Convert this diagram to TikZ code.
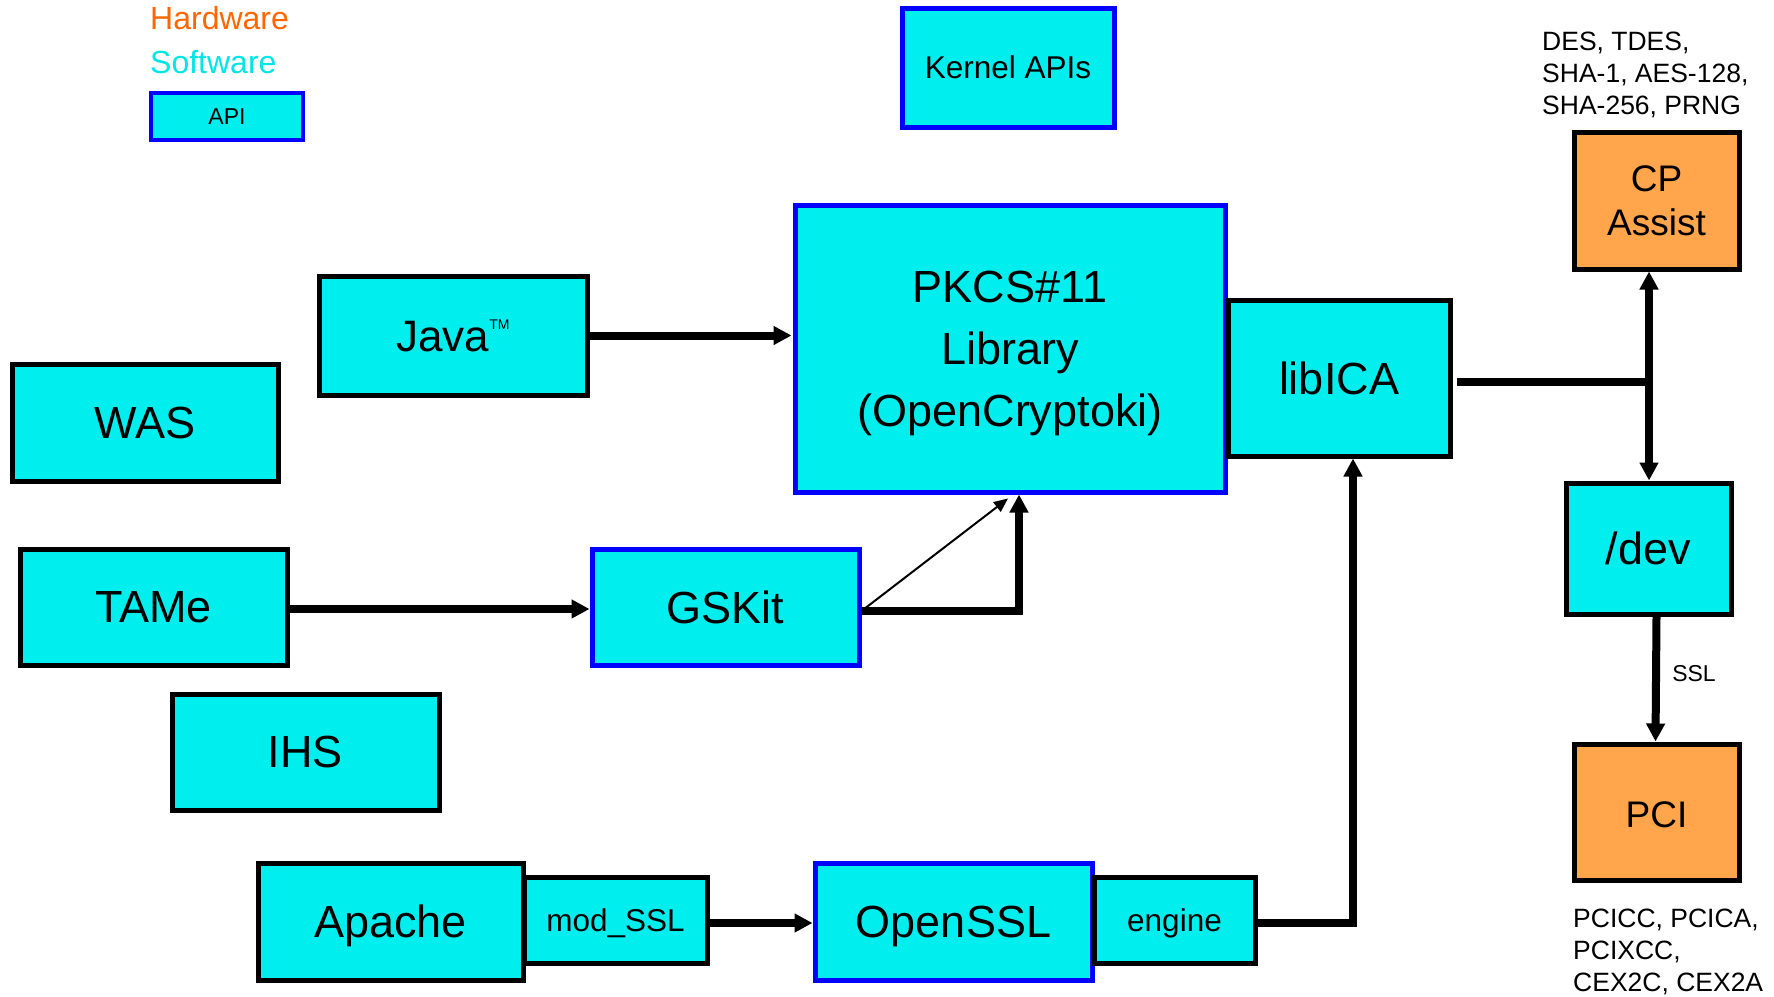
\documentclass[tikz,border=0pt]{standalone}
\usepackage{fontspec}
\setmainfont{Liberation Sans}
\usetikzlibrary{arrows.meta}
\definecolor{swcyan}{RGB}{0,238,238}
\definecolor{apiblue}{RGB}{0,0,255}
\definecolor{hworange}{RGB}{255,165,75}
\definecolor{hwtext}{RGB}{255,102,0}
\definecolor{swtext}{RGB}{0,229,229}
\newcommand{\fs}[2]{\fontsize{#1pt}{#2pt}\selectfont}
\tikzset{
  swbox/.style={draw=black, line width=5pt, fill=swcyan, inner sep=0pt, align=center, text depth=0pt},
  apibox/.style={swbox, draw=apiblue},
  hwbox/.style={draw=black, line width=5pt, fill=hworange, inner sep=0pt, align=center, text depth=0pt},
  conn/.style={line width=8pt, -{Triangle[length=18pt,width=18pt]}},
  plain/.style={line width=8pt},
  thinconn/.style={line width=2pt, -{Triangle[length=14pt,width=12pt]}},
  lbl/.style={inner sep=0pt, align=left},
}
\begin{document}
\begin{tikzpicture}[x=1pt,y=-1pt]
\useasboundingbox (0,0) rectangle (1774,996);
% legend
\node[lbl, anchor=west, text=hwtext, font=\fs{32}{36}] (hwleg) at (150,18) {Hardware};
\node[lbl, anchor=west, text=swtext, font=\fs{32}{36}] (swleg) at (150,62) {Software};
\node[apibox, line width=4pt, minimum width=152pt, minimum height=47pt, font=\fs{23}{28}] (api) at (227,116.5) {API};
% boxes
\node[apibox, minimum width=212pt, minimum height=119pt, font=\fs{31.5}{38}] (kernel) at (1008,67.5) {Kernel APIs};
\node[apibox, minimum width=430pt, minimum height=287pt, font=\fs{45}{62}] (pkcs) at (1010,348.5) {PKCS\#11\\Library\\(OpenCryptoki)};
\node[swbox, minimum width=222pt, minimum height=156pt, font=\fs{45}{54}] (libica) at (1339,378) {libICA};
\node[hwbox, minimum width=165pt, minimum height=137pt, font=\fs{37}{44}] (cp) at (1656.5,200.5) {CP\\Assist};
\node[hwbox, minimum width=165pt, minimum height=136pt, font=\fs{37}{44}, text height=30pt] (pci) at (1656.5,812) {PCI};
\node[swbox, minimum width=165pt, minimum height=131pt, font=\fs{45}{54}] (dev) at (1648.5,548.5) {/dev};
\node[swbox, minimum width=268pt, minimum height=119pt, font=\fs{44}{54}] (java) at (453,335.5) {Java\raisebox{22pt}{\fs{14}{14}TM}};
\node[swbox, minimum width=266pt, minimum height=117pt, font=\fs{45}{54}] (was) at (145,422.5) {WAS};
\node[swbox, minimum width=267pt, minimum height=116pt, font=\fs{45}{54}] (tame) at (153.5,607) {TAMe};
\node[apibox, minimum width=267pt, minimum height=116pt, font=\fs{45}{54}] (gskit) at (725.5,607) {GSKit};
\node[swbox, minimum width=267pt, minimum height=116pt, font=\fs{45}{54}] (ihs) at (305.5,752) {IHS};
\node[swbox, minimum width=265pt, minimum height=117pt, font=\fs{45}{54}] (apache) at (390.5,921.5) {Apache};
\node[swbox, minimum width=183pt, minimum height=86pt, font=\fs{31.5}{38}] (modssl) at (615.5,920) {mod\_SSL};
\node[apibox, minimum width=277pt, minimum height=117pt, font=\fs{45}{54}] (openssl) at (953.5,921.5) {OpenSSL};
\node[swbox, minimum width=161pt, minimum height=86pt, font=\fs{31.5}{38}] (engine) at (1174.5,920) {engine};
% notes
\node[lbl, anchor=north west, font=\fs{26.5}{31.7}] (cpnote) at (1542,32) {DES, TDES,\\SHA-1, AES-128,\\SHA-256, PRNG};
\node[lbl, anchor=north west, font=\fs{26.5}{31.7}] (pcinote) at (1573,909) {PCICC, PCICA,\\PCIXCC,\\CEX2C, CEX2A};
% connectors
\draw[conn] (java.east) -- ([xshift=-1pt]pkcs.west |- java.east);
\draw[conn] ([yshift=-2pt]tame.east) -- ([yshift=-2pt]gskit.west);
\draw[conn] ([yshift=-4pt]gskit.east) -| ([xshift=9pt]pkcs.south);
\draw[thinconn] ([yshift=-4pt]gskit.east) -- ([xshift=-2pt,yshift=-4pt]pkcs.south);
\draw[conn] ([yshift=-3pt]modssl.east) -- ([yshift=-3pt]openssl.west |- modssl.east);
\draw[conn] ([yshift=-3pt]engine.east) -| ([xshift=14pt]libica.south);
\coordinate (junc) at (1649,382);
\draw[plain] ([xshift=4pt]libica.east |- junc) -- ([xshift=4pt]junc);
\draw[conn] (junc) -- (junc |- cp.south);
\draw[conn] (junc) -- (junc |- dev.north);
\draw[conn] ([xshift=8pt]dev.south) -- ([xshift=-1pt]pci.north);
\node[lbl, font=\fs{23}{28}] (ssl) at (1694,674) {SSL};
\end{tikzpicture}
\end{document}
